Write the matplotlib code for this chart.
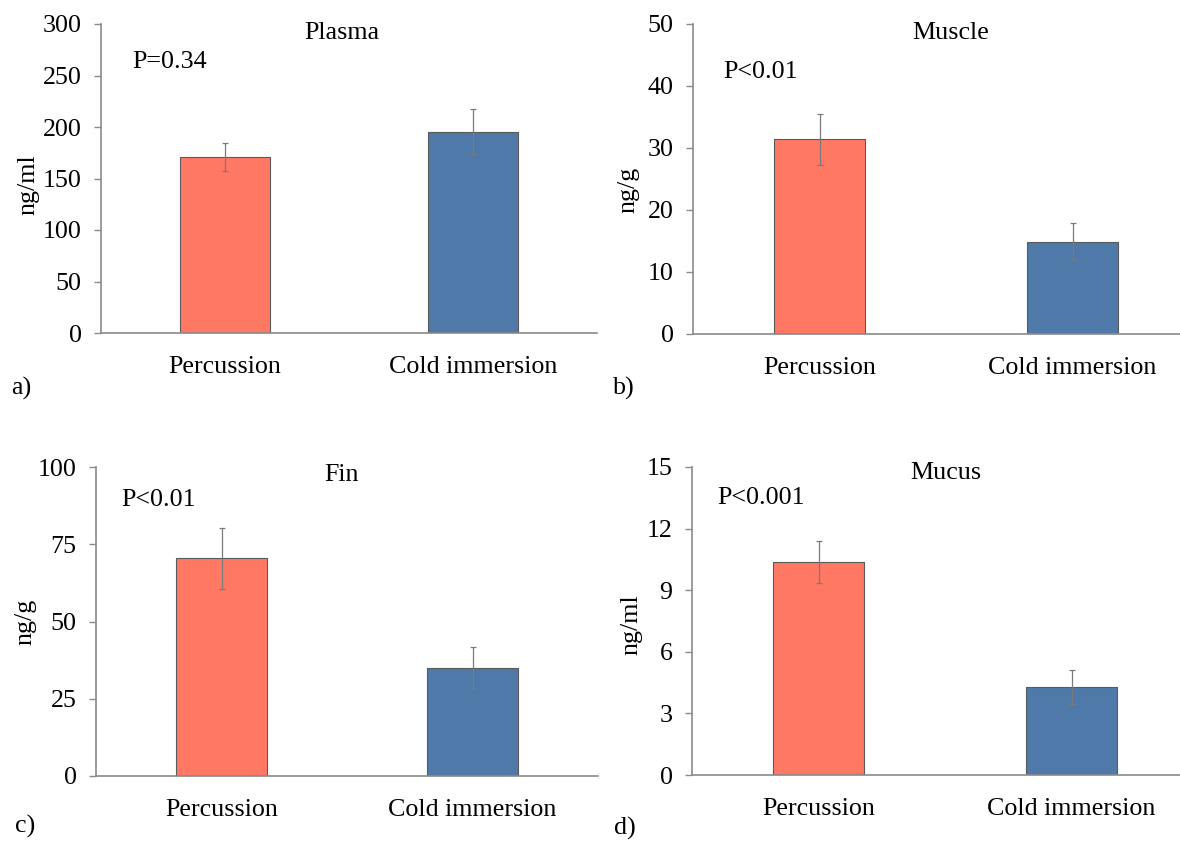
import matplotlib
matplotlib.use("Agg")
import matplotlib.pyplot as plt

plt.rcParams['font.family'] = ['Liberation Serif', 'DejaVu Serif']

categories = ["Percussion", "Cold immersion"]
colors = ["#FF7864", "#4E79A9"]

titles = ["Plasma", "Muscle", "Fin", "Mucus"]
ylabels = ["ng/ml", "ng/g", "ng/g", "ng/ml"]
pvalues = ["P=0.34", "P<0.01", "P<0.01", "P<0.001"]
panel_labels = ["a)", "b)", "c)", "d)"]

plasma_means = [171.2, 195.5]
plasma_err = [13.6, 21.7]
muscle_means = [31.4, 14.9]
muscle_err = [4.15, 3.0]
fin_means = [70.4, 34.9]
fin_err = [10.0, 6.75]
mucus_means = [10.36, 4.29]
mucus_err = [1.03, 0.83]

y_max = [300, 50, 100, 15]
y_ticks = [[0, 50, 100, 150, 200, 250, 300],
           [0, 10, 20, 30, 40, 50],
           [0, 25, 50, 75, 100],
           [0, 3, 6, 9, 12, 15]]

means = [plasma_means, muscle_means, fin_means, mucus_means]
errs = [plasma_err, muscle_err, fin_err, mucus_err]

W, H = 1180, 842
fig = plt.figure(figsize=(W / 100, H / 100), dpi=100)

def fx(x):
    return x / W

def fy(y):
    return 1 - y / H

# axes boxes in pixels: left, top, right, bottom
boxes = [(101, 24, 597, 333), (693, 24, 1199, 334),
         (96, 467, 598, 776), (692, 467, 1198, 775)]
title_pos = [(342, 33), (951, 33), (342, 475), (946, 473)]
p_pos = [(132, 62), (723, 72), (121, 500), (717, 498)]
lab_pos = [(11, 388), (613, 388), (15, 826), (614, 828)]
ylab_pos = [(28, 185), (628, 190), (25, 622), (631, 625)]

spine_col = "#8a8a8a"
fs = 18.7

for i in range(4):
    l, t, r, b = boxes[i]
    ax = fig.add_axes([fx(l), fy(b), (r - l) / W, (b - t) / H])
    x = list(range(len(categories)))
    ax.bar(x, means[i], width=0.36, color=colors, edgecolor="#5a5a5a",
           linewidth=0.8, zorder=2)
    ax.errorbar(x, means[i], yerr=errs[i], fmt="none", ecolor="#7a7a7a",
                elinewidth=0.9, capsize=2, capthick=0.9, zorder=3)
    ax.set_xlim(-0.5, 1.5)
    ax.set_ylim(0, y_max[i])
    ax.set_yticks(y_ticks[i])
    ax.set_xticks(x)
    ax.set_xticklabels(categories, fontsize=fs)
    ax.tick_params(axis="y", labelsize=fs, length=5, width=1, color=spine_col,
                   direction="out", pad=9)
    ax.tick_params(axis="x", length=0, pad=16.5)
    for s in ["top", "right"]:
        ax.spines[s].set_visible(False)
    for s in ["left", "bottom"]:
        ax.spines[s].set_color(spine_col)
        ax.spines[s].set_linewidth(1.2)
    ax.patch.set_alpha(0)

    fig.text(fx(title_pos[i][0]), fy(title_pos[i][1]), titles[i], fontsize=fs,
             ha="center", va="center")
    fig.text(fx(p_pos[i][0]), fy(p_pos[i][1]), pvalues[i], fontsize=fs,
             ha="left", va="center")
    fig.text(fx(lab_pos[i][0]), fy(lab_pos[i][1]), panel_labels[i], fontsize=fs,
             ha="left", va="center")
    fig.text(fx(ylab_pos[i][0]), fy(ylab_pos[i][1]), ylabels[i], fontsize=fs,
             ha="center", va="center", rotation=90)

fig.savefig("out.png", dpi=100, facecolor="white")
